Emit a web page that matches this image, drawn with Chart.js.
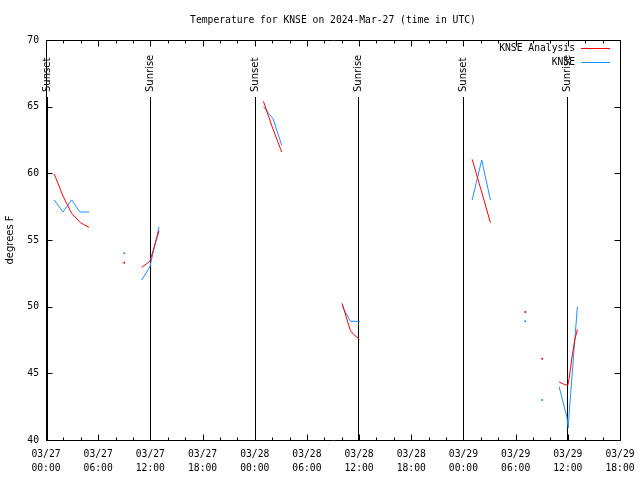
<!DOCTYPE html>
<html><head><meta charset="utf-8">
<script src="https://cdn.jsdelivr.net/npm/chart.js@4"></script>
<style>html,body{margin:0;padding:0;background:#fff}#wrap{width:640px;height:480px}</style>
</head><body><div id="wrap"><canvas id="c" width="640" height="480"></canvas></div>
<script>
const titleText = 'Temperature for KNSE on 2024-Mar-27 (time in UTC)';
const yAxisLabel = 'degrees F';
const seriesNames = ['KNSE Analysis', 'KNSE'];
const xTickHours = [0, 6, 12, 18, 24, 30, 36, 42, 48, 54, 60, 66];
const xTickDates = ['03/27','03/27','03/27','03/27','03/28','03/28','03/28','03/28','03/29','03/29','03/29','03/29'];
const xTickTimes = ['00:00','06:00','12:00','18:00','00:00','06:00','12:00','18:00','00:00','06:00','12:00','18:00'];
const yTicks = [40, 45, 50, 55, 60, 65, 70];

const analysisTimes = [0.95, 1.95, 2.95, 3.95, 4.95, 7, 9.0, 10, 11.0, 11.95, 13.0, 18, 25.0, 26.0, 27.1, 30, 34.05, 35.0, 35.4, 36.05, 42, 49.0, 50.05, 51.1, 53, 55.1, 56, 57.05, 58, 59.0, 59.5, 60.0, 60.15, 60.5, 60.8, 61.1];
const analysisTemps = [59.95, 58.3, 57.0, 56.3, 55.95, null, 53.3, null, 52.95, 53.4, 55.7, null, 65.4, 63.5, 61.6, null, 50.25, 48.2, 47.9, 47.55, null, 61.05, 58.7, 56.3, null, 49.6, null, 46.1, null, 44.35, 44.2, 44.1, 44.6, 46.3, 47.5, 48.3];

const obsTimes = [0.95, 1.95, 2.95, 3.9, 4.95, 7, 9.0, 10, 11.0, 11.95, 13.0, 18, 25.0, 25.6, 26.1, 27.1, 30, 34.05, 35.0, 36.1, 42, 49.0, 50.1, 51.1, 53, 55.1, 56, 57.05, 58, 59.0, 59.9, 60.05, 60.2, 61.1];
const obsTemps = [58.0, 57.1, 58.0, 57.1, 57.1, null, 54.0, null, 52.0, 53.0, 56.0, null, 65.0, 64.5, 64.1, 62.1, null, 50.05, 48.9, 48.9, null, 58.0, 61.0, 58.0, null, 48.9, null, 43.0, null, 44.0, 41.7, 40.9, 42.4, 50.0];

const sunTimes = [0.1, 11.95, 24.05, 35.9, 48.0, 59.95];
const sunLabels = ['Sunset', 'Sunrise', 'Sunset', 'Sunrise', 'Sunset', 'Sunrise'];

const MONO = '9.7px "DejaVu Sans Mono"';
const SANS = '10px "DejaVu Sans"';
const RED = '#ff0000', BLUE = '#1e90ff';

function pts(ts, vs) { return ts.map((t, i) => ({ x: t, y: vs[i] })); }
function isoRadius(ctx) {
  const d = ctx.dataset.data, i = ctx.dataIndex;
  if (d[i].y === null) return 0;
  const prev = i > 0 ? d[i - 1].y : null, next = i < d.length - 1 ? d[i + 1].y : null;
  return (prev === null && next === null) ? 1 : 0;
}

const decor = {
  id: 'decor',
  beforeDatasetsDraw(chart) {
    const ctx = chart.ctx, xs = chart.scales.x, a = chart.chartArea;
    ctx.save();
    ctx.strokeStyle = '#000'; ctx.lineWidth = 1; ctx.fillStyle = '#000';
    sunTimes.forEach((t, i) => {
      const x = Math.round(xs.getPixelForValue(t)) + 0.5;
      ctx.beginPath(); ctx.moveTo(x, 97); ctx.lineTo(x, a.bottom); ctx.stroke();
      ctx.save(); ctx.translate(x, 92); ctx.rotate(-Math.PI / 2);
      ctx.font = SANS; ctx.textAlign = 'left'; ctx.textBaseline = 'middle';
      ctx.fillText(sunLabels[i], 0, 0); ctx.restore();
    });
    ctx.restore();
  },
  afterDraw(chart) {
    const ctx = chart.ctx, xs = chart.scales.x, ys = chart.scales.y, a = chart.chartArea;
    ctx.save();
    ctx.strokeStyle = '#000'; ctx.lineWidth = 1; ctx.fillStyle = '#000';
    const L = Math.round(a.left) + 0.5, R = Math.round(a.right) + 0.5, T = Math.round(a.top) + 0.5, B = Math.round(a.bottom) + 0.5;
    ctx.beginPath(); ctx.rect(L, T, R - L, B - T); ctx.stroke();
    ctx.beginPath();
    for (let h = xs.min; h <= xs.max; h += 2) {
      const x = Math.round(xs.getPixelForValue(h)) + 0.5;
      const len = (h % 6 === 0) ? 6 : 3;
      ctx.moveTo(x, B); ctx.lineTo(x, B - len);
      ctx.moveTo(x, T); ctx.lineTo(x, T + len);
    }
    yTicks.forEach(v => {
      const y = Math.round(ys.getPixelForValue(v)) + 0.5;
      ctx.moveTo(L, y); ctx.lineTo(L + 6, y);
      ctx.moveTo(R, y); ctx.lineTo(R - 6, y);
    });
    ctx.stroke();
    ctx.font = MONO; ctx.textAlign = 'center'; ctx.textBaseline = 'middle';
    ctx.fillText(titleText, (a.left + a.right) / 2, 20);
    ctx.save(); ctx.translate(10, (a.top + a.bottom) / 2); ctx.rotate(-Math.PI / 2);
    ctx.font = SANS; ctx.textAlign = 'center'; ctx.textBaseline = 'middle';
    ctx.fillText(yAxisLabel, 0, 0); ctx.restore();
    ctx.font = MONO; ctx.textAlign = 'right'; ctx.textBaseline = 'middle';
    const colors = [RED, BLUE];
    seriesNames.forEach((n, i) => {
      const y = 48 + i * 14;
      ctx.fillStyle = '#000'; ctx.fillText(n, 575, y);
      ctx.strokeStyle = colors[i]; ctx.beginPath();
      ctx.moveTo(581, Math.round(y) + 0.5); ctx.lineTo(610, Math.round(y) + 0.5); ctx.stroke();
    });
    ctx.restore();
  }
};

new Chart(document.getElementById('c'), {
  type: 'line',
  data: {
    datasets: [
      { label: seriesNames[0], data: pts(analysisTimes, analysisTemps), borderColor: RED, backgroundColor: RED, borderWidth: 1, pointRadius: isoRadius, pointBorderWidth: 0, tension: 0, spanGaps: false },
      { label: seriesNames[1], data: pts(obsTimes, obsTemps), borderColor: BLUE, backgroundColor: BLUE, borderWidth: 1, pointRadius: isoRadius, pointBorderWidth: 0, tension: 0, spanGaps: false }
    ]
  },
  options: {
    responsive: false, animation: false, devicePixelRatio: 1,
    layout: { padding: { top: 40, right: 20, left: 0, bottom: 0 } },
    plugins: { legend: { display: false }, title: { display: false }, tooltip: { enabled: false } },
    scales: {
      x: {
        type: 'linear', min: 0, max: 66,
        afterBuildTicks(s) { s.ticks = xTickHours.map(v => ({ value: v })); },
        afterFit(s) { s.height = 40; s.paddingLeft = 0; s.paddingRight = 0; },
        ticks: {
          autoSkip: false, maxRotation: 0, minRotation: 0, padding: 7, color: '#000',
          font: { family: 'DejaVu Sans Mono', size: 9.7, lineHeight: 1.45 },
          callback(v) { const i = xTickHours.indexOf(v); return i < 0 ? '' : [xTickDates[i], xTickTimes[i]]; }
        },
        grid: { display: false, drawTicks: false }, border: { display: false }
      },
      y: {
        type: 'linear', min: 40, max: 70,
        afterBuildTicks(s) { s.ticks = yTicks.map(v => ({ value: v })); },
        afterFit(s) { s.width = 46; s.paddingTop = 0; s.paddingBottom = 0; },
        ticks: { padding: 7, color: '#000', font: { family: 'DejaVu Sans Mono', size: 9.7 } },
        grid: { display: false, drawTicks: false }, border: { display: false }
      }
    }
  },
  plugins: [decor]
});
</script></body></html>
